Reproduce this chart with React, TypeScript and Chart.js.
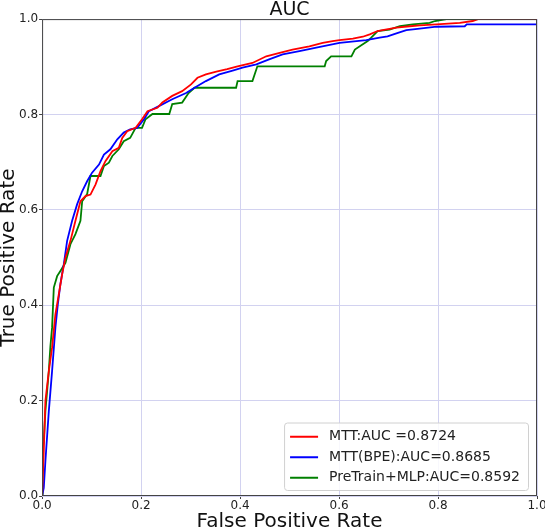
import React, { useEffect, useRef } from "react";
import { Chart, registerables } from "chart.js";

Chart.register(...registerables);

const seriesLabels = ["MTT:AUC =0.8724", "MTT(BPE):AUC=0.8685", "PreTrain+MLP:AUC=0.8592"];
const seriesColors = ["#ff0000", "#0000ff", "#008000"];

const mttFpr = [0, 0.0034, 0.0067, 0.0136, 0.0202, 0.0269, 0.0338, 0.0405, 0.0472, 0.0573, 0.0674, 0.0775, 0.0877, 0.0978, 0.1079, 0.118, 0.128, 0.142, 0.155, 0.162, 0.172, 0.189, 0.202, 0.213, 0.233, 0.243, 0.263, 0.283, 0.301, 0.314, 0.331, 0.352, 0.374, 0.395, 0.425, 0.453, 0.48, 0.506, 0.54, 0.567, 0.587, 0.601, 0.628, 0.648, 0.662, 0.678, 0.688, 0.716, 0.743, 0.763, 0.797, 0.844, 0.87, 0.881, 1.0];
const mttTpr = [0, 0.094, 0.199, 0.262, 0.311, 0.381, 0.423, 0.465, 0.5, 0.535, 0.577, 0.618, 0.629, 0.632, 0.653, 0.681, 0.702, 0.723, 0.73, 0.751, 0.765, 0.772, 0.79, 0.807, 0.814, 0.825, 0.839, 0.849, 0.863, 0.877, 0.884, 0.89, 0.895, 0.901, 0.908, 0.922, 0.929, 0.936, 0.943, 0.95, 0.954, 0.956, 0.959, 0.963, 0.968, 0.975, 0.977, 0.982, 0.985, 0.987, 0.989, 0.992, 0.996, 1.0, 1.0];

const bpeFpr = [0, 0.0034, 0.0067, 0.0136, 0.0202, 0.0269, 0.0318, 0.037, 0.0439, 0.0506, 0.0607, 0.0709, 0.081, 0.091, 0.101, 0.115, 0.125, 0.138, 0.152, 0.165, 0.178, 0.192, 0.206, 0.216, 0.237, 0.263, 0.291, 0.308, 0.331, 0.358, 0.385, 0.405, 0.433, 0.46, 0.486, 0.52, 0.554, 0.601, 0.655, 0.682, 0.698, 0.719, 0.736, 0.763, 0.797, 0.854, 0.858, 1.0];
const bpeTpr = [0, 0.017, 0.073, 0.178, 0.262, 0.353, 0.402, 0.444, 0.486, 0.535, 0.577, 0.612, 0.639, 0.66, 0.678, 0.695, 0.716, 0.727, 0.748, 0.762, 0.769, 0.772, 0.79, 0.807, 0.818, 0.832, 0.845, 0.856, 0.87, 0.884, 0.892, 0.898, 0.905, 0.916, 0.926, 0.933, 0.94, 0.95, 0.956, 0.961, 0.964, 0.971, 0.977, 0.98, 0.984, 0.985, 0.989, 0.989];

const mlpFpr = [0, 0.001, 0.0034, 0.0067, 0.0136, 0.0168, 0.0202, 0.0237, 0.0304, 0.037, 0.0472, 0.0573, 0.0674, 0.0775, 0.081, 0.091, 0.0978, 0.118, 0.125, 0.135, 0.142, 0.155, 0.165, 0.178, 0.189, 0.202, 0.209, 0.223, 0.257, 0.263, 0.283, 0.296, 0.308, 0.392, 0.395, 0.425, 0.435, 0.571, 0.574, 0.584, 0.625, 0.632, 0.645, 0.658, 0.665, 0.678, 0.702, 0.723, 0.749, 0.783, 0.794, 0.817, 1.0];
const mlpTpr = [0, 0.1, 0.115, 0.178, 0.262, 0.314, 0.353, 0.437, 0.461, 0.472, 0.489, 0.528, 0.549, 0.577, 0.618, 0.633, 0.671, 0.671, 0.692, 0.699, 0.713, 0.727, 0.744, 0.751, 0.772, 0.772, 0.79, 0.801, 0.801, 0.822, 0.825, 0.845, 0.856, 0.856, 0.87, 0.87, 0.901, 0.901, 0.912, 0.922, 0.922, 0.936, 0.945, 0.954, 0.961, 0.975, 0.978, 0.985, 0.989, 0.992, 0.996, 1.0, 1.0];

const axisTicks = [0, 0.2, 0.4, 0.6, 0.8, 1.0];

const FONT = "'DejaVu Sans', sans-serif";

const toPoints = (xs: number[], ys: number[]) => xs.map((x, i) => ({ x, y: ys[i] }));

const framePlugin = {
  id: "frame",
  afterDatasetsDraw(chart: any) {
    const { ctx, chartArea: a } = chart;
    ctx.save();
    ctx.strokeStyle = "#444";
    ctx.lineWidth = 1;
    ctx.strokeRect(a.left + 0.5, a.top + 0.5, a.right - a.left - 1, a.bottom - a.top - 1);
    ctx.restore();
  },
};

const legendPlugin = {
  id: "innerLegend",
  afterDraw(chart: any) {
    const { ctx, chartArea: a } = chart;
    const ds = chart.data.datasets;
    ctx.save();
    ctx.font = `14px ${FONT}`;
    const rowH = 20.5;
    const handle = 28;
    const gap = 11;
    const padX = 6;
    const padY = 3;
    let maxW = 0;
    ds.forEach((d: any) => {
      maxW = Math.max(maxW, ctx.measureText(d.label).width);
    });
    const w = padX + handle + gap + maxW + 8;
    const h = padY * 2 + rowH * ds.length;
    const x0 = a.right - 9 - w;
    const y0 = a.bottom - 6 - h;
    ctx.fillStyle = "rgba(255,255,255,0.85)";
    ctx.strokeStyle = "#d0d0d0";
    ctx.lineWidth = 1;
    ctx.beginPath();
    (ctx as any).roundRect(x0 + 0.5, y0 + 0.5, w, h, 3);
    ctx.fill();
    ctx.stroke();
    ctx.textBaseline = "middle";
    ctx.textAlign = "left";
    ds.forEach((d: any, i: number) => {
      const cy = y0 + padY + rowH * (i + 0.5) + 1;
      ctx.strokeStyle = d.borderColor;
      ctx.lineWidth = 2;
      ctx.beginPath();
      ctx.moveTo(x0 + padX, cy);
      ctx.lineTo(x0 + padX + handle, cy);
      ctx.stroke();
      ctx.fillStyle = "#222";
      ctx.fillText(d.label, x0 + padX + handle + gap, cy);
    });
    ctx.restore();
  },
};

export default function App() {
  const ref = useRef<HTMLCanvasElement | null>(null);

  useEffect(() => {
    document.body.style.margin = "0";
    const series = [
      toPoints(mttFpr, mttTpr),
      toPoints(bpeFpr, bpeTpr),
      toPoints(mlpFpr, mlpTpr),
    ];
    const chart = new Chart(ref.current as HTMLCanvasElement, {
      type: "line",
      data: {
        datasets: series.map((pts, i) => ({
          label: seriesLabels[i],
          data: pts,
          borderColor: seriesColors[i],
          backgroundColor: seriesColors[i],
          borderWidth: 1.8,
          pointRadius: 0,
          tension: 0,
          fill: false,
        })),
      },
      options: {
        animation: false,
        responsive: false,
        maintainAspectRatio: false,
        layout: { padding: { top: 0, right: 0, bottom: 0, left: 0 } },
        plugins: {
          legend: { display: false },
          tooltip: { enabled: false },
          title: {
            display: true,
            text: "AUC",
            fullSize: false,
            color: "#111",
            font: { family: FONT, size: 19, lineHeight: 0.9, weight: "normal" },
            padding: { top: 2, bottom: 0 },
          },
        },
        scales: {
          x: {
            type: "linear",
            min: 0,
            max: 1,
            afterBuildTicks: (s: any) => {
              s.ticks = axisTicks.map((v) => ({ value: v }));
            },
            afterFit: (s: any) => {
              s.paddingRight = 8;
            },
            ticks: {
              color: "#222",
              font: { family: FONT, size: 12, lineHeight: 1 },
              padding: 1,
              maxRotation: 0,
              callback: (v: any) => Number(v).toFixed(1),
            },
            grid: { color: "#d2d2f0", lineWidth: 1, tickLength: 3, tickColor: "#444" },
            border: { display: false },
            title: {
              display: true,
              text: "False Positive Rate",
              color: "#111",
              font: { family: FONT, size: 20, lineHeight: 0.85 },
              padding: { top: 0, bottom: 0 },
            },
          },
          y: {
            type: "linear",
            min: 0,
            max: 1,
            afterBuildTicks: (s: any) => {
              s.ticks = axisTicks.map((v) => ({ value: v }));
            },
            ticks: {
              color: "#222",
              font: { family: FONT, size: 12, lineHeight: 1 },
              padding: 1,
              callback: (v: any) => Number(v).toFixed(1),
            },
            grid: { color: "#d2d2f0", lineWidth: 1, tickLength: 3, tickColor: "#444" },
            border: { display: false },
            title: {
              display: true,
              text: "True Positive Rate",
              color: "#111",
              font: { family: FONT, size: 20, lineHeight: 0.9 },
              padding: { top: 0, bottom: 0 },
            },
          },
        },
      },
      plugins: [framePlugin, legendPlugin],
    });
    return () => chart.destroy();
  }, []);

  return (
    <div style={{ position: "absolute", left: 0, top: 0, width: 545, height: 530 }}>
      <canvas ref={ref} width={545} height={530} style={{ width: 545, height: 530 }} />
    </div>
  );
}
